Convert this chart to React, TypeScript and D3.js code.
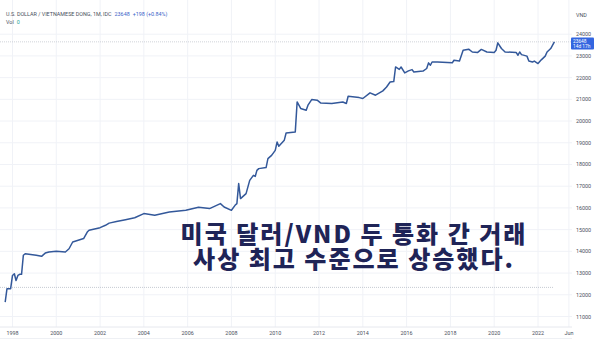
import React from 'react'
import * as d3 from 'd3'

// monthly closes (USD/VND)
const months: string[] = [
    '1997-09', '1997-10', '1997-12', '1998-01', '1998-02', '1998-03', '1998-04', '1998-05', '1998-06', '1998-07',
    '1998-08', '1999-02', '1999-05', '1999-07', '1999-09', '2000-01', '2000-06', '2000-08', '2000-10', '2001-01',
    '2001-04', '2001-06', '2001-07', '2002-01', '2002-04', '2002-06', '2002-10', '2003-03', '2003-08', '2004-01',
    '2004-07', '2005-03', '2005-12', '2006-07', '2007-01', '2007-07', '2007-09', '2008-01', '2008-03', '2008-04',
    '2008-05', '2008-06', '2008-09', '2008-11', '2009-01', '2009-02', '2009-03', '2009-04', '2009-08', '2009-09',
    '2009-11', '2010-01', '2010-02', '2010-03', '2010-06', '2010-07', '2010-12', '2011-01', '2011-03', '2011-06',
    '2011-07', '2011-09', '2011-12', '2012-02', '2012-08', '2013-02', '2013-04', '2013-05', '2013-11', '2014-01',
    '2014-05', '2014-08', '2014-12', '2015-02', '2015-04', '2015-06', '2015-07', '2015-09', '2015-10', '2015-12',
    '2016-02', '2016-04', '2016-05', '2016-10', '2016-12', '2017-01', '2017-02', '2017-03', '2017-06', '2018-02',
    '2018-03', '2018-06', '2018-08', '2018-11', '2019-01', '2019-04', '2019-06', '2019-09', '2020-01', '2020-02',
    '2020-03', '2020-05', '2020-07', '2021-01', '2021-02', '2021-03', '2021-04', '2021-07', '2021-08', '2021-10',
    '2021-11', '2022-01', '2022-03', '2022-05', '2022-06', '2022-08', '2022-10',
]
const rates: number[] = [
    11660, 12280, 12280, 12890, 12970, 12660, 12890, 12940, 12940, 13820,
    13890, 13820, 13770, 13920, 13970, 14000, 13970, 14120, 14430, 14510,
    14590, 14890, 14970, 15090, 15200, 15300, 15370, 15460, 15550, 15740,
    15660, 15810, 15890, 16030, 15970, 16200, 16040, 15890, 16120, 16200,
    17120, 16430, 16660, 17270, 17500, 17450, 17730, 17810, 17860, 18270,
    18420, 18650, 19040, 18840, 19120, 19450, 19500, 20880, 20580, 20500,
    20730, 20990, 20960, 20830, 20810, 20880, 20810, 21140, 21080, 21040,
    21300, 21190, 21390, 21570, 21800, 21820, 22490, 22380, 22490, 22220,
    22310, 22370, 22260, 22300, 22420, 22680, 22570, 22720, 22720, 22680,
    22800, 22770, 23260, 23310, 23180, 23160, 23300, 23180, 23160, 23260,
    23600, 23340, 23180, 23160, 23030, 23180, 23060, 22990, 22770, 22720,
    22760, 22650, 22830, 22990, 23180, 23340, 23648,
]

const timeTicks: string[] = [
    '1998-01', '2000-01', '2002-01', '2004-01', '2006-01', '2008-01', '2010-01',
    '2012-01', '2014-01', '2016-01', '2018-01', '2020-01', '2022-01', '2023-06',
]
const timeLabels: string[] = [
    '1998', '2000', '2002', '2004', '2006', '2008', '2010',
    '2012', '2014', '2016', '2018', '2020', '2022', 'Jun',
]
const priceTicks: number[] = [24000, 23000, 22000, 21000, 20000, 19000, 18000, 17000, 16000, 15000, 14000, 13000, 12000, 11000]

const lastPrice = 23648
const baseLine = 12340
const captionLines: string[] = ['미국 달러/VND 두 통화 간 거래', '사상 최고 수준으로 상승했다.']

const W = 600
const H = 352
const plotRight = 572
const axisTop = 327

const parse = d3.timeParse('%Y-%m')

const App: React.FC = () => {
    const data = months.map((m, i) => ({ date: parse(m) as Date, value: rates[i] }))

    const x = d3
        .scaleTime()
        .domain([parse('1998-01') as Date, parse('2022-01') as Date])
        .range([12.5, 538])
    const y = d3.scaleLinear().domain([11000, 24000]).range([316.5, 34.2])

    const line = d3
        .line<{ date: Date; value: number }>()
        .x((d) => x(d.date))
        .y((d) => y(d.value))

    const small = { fontFamily: 'Roboto, "Noto Sans", sans-serif', fontSize: 5.4, fill: '#4a4f5c' }

    return (
        <svg width={W} height={H} style={{ position: 'absolute', left: 0, top: 0, background: '#fff' }}>
            <rect width={W} height={H} fill="#fff" />

            {/* grid */}
            {priceTicks.map((t) => (
                <line key={'h' + t} x1={0} x2={plotRight} y1={y(t)} y2={y(t)} stroke="#f0f2f7" strokeWidth={1} />
            ))}
            {timeTicks.map((t) => (
                <line key={'v' + t} x1={x(parse(t) as Date)} x2={x(parse(t) as Date)} y1={0} y2={axisTop} stroke="#f0f2f7" strokeWidth={1} />
            ))}

            {/* time axis */}
            <line x1={0} x2={plotRight} y1={axisTop} y2={axisTop} stroke="#e6e8ee" />
            <line x1={0} x2={plotRight} y1={338.5} y2={338.5} stroke="#eef0f4" />
            {timeTicks.map((t, i) => (
                <text key={'tl' + t} x={x(parse(t) as Date)} y={335} textAnchor="middle" {...small}>
                    {timeLabels[i]}
                </text>
            ))}

            {/* price axis */}
            <text x={576} y={17} {...small}>VND</text>
            {priceTicks.map((t) => (
                <text key={'pl' + t} x={576} y={y(t) + 2} {...small}>
                    {t}
                </text>
            ))}

            {/* reference lines */}
            <line x1={0} x2={553} y1={y(baseLine)} y2={y(baseLine)} stroke="#b8bcc6" strokeWidth={0.8} strokeDasharray="1,1" />
            <line x1={0} x2={plotRight} y1={y(lastPrice)} y2={y(lastPrice)} stroke="#c4c8d0" strokeWidth={0.8} strokeDasharray="1,1" />

            {/* series */}
            <path d={line(data) ?? ''} fill="none" stroke="#33589a" strokeWidth={1.5} strokeLinejoin="round" />

            {/* last price tag */}
            <rect x={571} y={37.5} width={23} height={12} rx={1} fill="#3466e0" />
            <text x={573} y={42.5} fontFamily="Roboto, sans-serif" fontSize={4.8} fill="#fff">{lastPrice}</text>
            <text x={573} y={48} fontFamily="Roboto, sans-serif" fontSize={4.8} fill="#fff">14d 17h</text>

            {/* header */}
            <text x={6} y={16} {...small}>
                U.S. DOLLAR / VIETNAMESE DONG, 1M, IDC
                <tspan fill="#3a62c8" dx={3}>23648</tspan>
                <tspan fill="#3a62c8" dx={3}>+198 (+0.84%)</tspan>
            </text>
            <text x={6} y={24} {...small}>
                Vol
                <tspan fill="#26a69a" dx={3}>0</tspan>
            </text>

            {/* caption */}
            {captionLines.map((c, i) => (
                <text
                    key={c}
                    x={354}
                    y={243 + i * 25}
                    textAnchor="middle"
                    fontFamily='"Noto Sans CJK KR", sans-serif'
                    fontWeight={900}
                    fontSize={24}
                    letterSpacing={2}
                    fill="#1f2457"
                >
                    {c}
                </text>
            ))}
        </svg>
    )
}

export default App
